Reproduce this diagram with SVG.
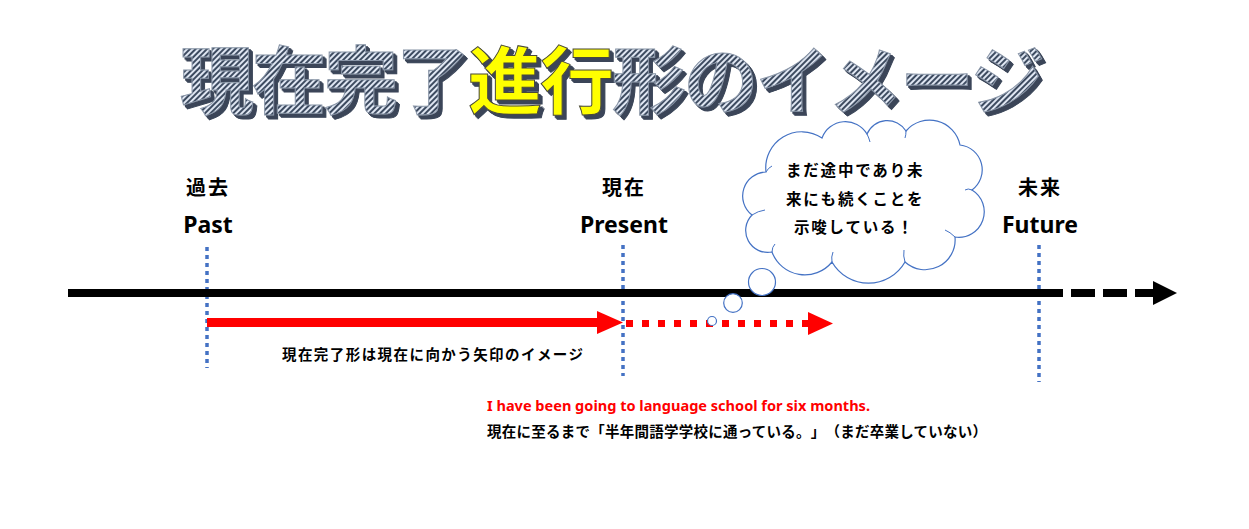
<svg xmlns="http://www.w3.org/2000/svg" width="1249" height="529" viewBox="0 0 1249 529">
<style>
.jp{font-family:"Noto Sans CJK JP","Noto Sans",sans-serif;font-weight:bold;fill:#000;text-spacing-trim:space-all}
.en{font-family:"Noto Sans","Liberation Sans",sans-serif;font-weight:bold;fill:#000}
.title{font-family:"Noto Sans CJK JP",sans-serif;font-weight:bold;font-size:74px;letter-spacing:-2px}
.front{fill:url(#stripes);stroke:#8a96a8;stroke-width:1}
.yel{fill:#ffff00;stroke:#4a4a3a;stroke-width:1}
.vdot{stroke:#4472c4;stroke-width:3.5;stroke-dasharray:4 4;fill:none}
.red{fill:#ff0000}
.bub{fill:#fff;stroke:#4472c4;stroke-width:1.2}
</style>
<defs>
<pattern id="stripes" width="4" height="4" patternUnits="userSpaceOnUse" patternTransform="rotate(45)">
<rect width="4" height="4" fill="#dfe6f2"/>
<rect width="2" height="4" fill="#3d4b60"/>
</pattern>
<filter id="extrude" x="-5%" y="-20%" width="110%" height="140%">
<feOffset in="SourceAlpha" dx="1.5" dy="1.5" result="o1"/>
<feOffset in="SourceAlpha" dx="3" dy="3" result="o2"/>
<feOffset in="SourceAlpha" dx="4" dy="4" result="o3"/>
<feMerge result="m"><feMergeNode in="o1"/><feMergeNode in="o2"/><feMergeNode in="o3"/></feMerge>
<feFlood flood-color="#3a4558"/>
<feComposite in2="m" operator="in" result="sh"/>
<feMerge><feMergeNode in="sh"/><feMergeNode in="SourceGraphic"/></feMerge>
</filter>
</defs>
<rect width="1249" height="529" fill="#fff"/>

<g id="title" filter="url(#extrude)">
<text class="title front" x="180" y="108">現在完了<tspan class="yel">進行</tspan>形のイメージ</text>
</g>

<g id="connectors">
<line class="vdot" x1="207" y1="247" x2="207" y2="368"/>
<line class="vdot" x1="623" y1="245" x2="623" y2="376"/>
<line class="vdot" x1="1039" y1="245" x2="1039" y2="382"/>
<line x1="68" y1="293" x2="1063" y2="293" stroke="#000" stroke-width="8"/>
<line x1="1071" y1="293" x2="1155" y2="293" stroke="#000" stroke-width="8" stroke-dasharray="24 8"/>
<polygon points="1153,281 1177,293 1153,305" fill="#000"/>
<line x1="207" y1="322.5" x2="600" y2="322.5" stroke="#ff0000" stroke-width="9"/>
<polygon class="red" points="597,311 623,322.5 597,334"/>
<line x1="626" y1="323.5" x2="810" y2="323.5" stroke="#ff0000" stroke-width="7" stroke-dasharray="7 9"/>
<polygon class="red" points="808,312 833,323.5 808,335"/>
</g>

<g id="past">
<text class="jp" x="208" y="195" font-size="20" text-anchor="middle" letter-spacing="2">過去</text>
<text class="en" x="208" y="233" font-size="23" text-anchor="middle">Past</text>
</g>
<g id="present">
<text class="jp" x="624" y="195" font-size="20" text-anchor="middle" letter-spacing="2">現在</text>
<text class="en" x="624" y="233" font-size="23" text-anchor="middle">Present</text>
</g>
<g id="future">
<text class="jp" x="1040" y="195" font-size="20" text-anchor="middle" letter-spacing="2">未来</text>
<text class="en" x="1040" y="233" font-size="23" text-anchor="middle">Future</text>
</g>

<g id="thought-cloud">
<path class="bub" d="M752,215 A24 24 0 0 1 766,172 A36 36 0 0 1 822,138 A25 25 0 0 1 867,134 A22 22 0 0 1 906,131 A31 31 0 0 1 960,145 A25 25 0 0 1 972,190 A25.5 25.5 0 0 1 955,237 A30 30 0 0 1 905,262 A42 42 0 0 1 832,262 A35 35 0 0 1 772,252 A22 22 0 0 1 752,215 Z"/>
<path d="M972,190 Q968,188 965,190 M955,237 Q950,232 945,230 M905,262 Q903,256 904,250 M832,262 Q831,257 833,252 M772,252 Q772,247 775,244 M752,215 Q758,211 765,210 M766,172 Q768,168 772,166 M867,134 Q869,138 870,142 M906,131 Q906,135 905,138" fill="none" stroke="#4472c4" stroke-width="1"/>
<text class="jp" x="786" y="176" font-size="15.5" letter-spacing="1.8">まだ途中であり未</text>
<text class="jp" x="786" y="205" font-size="15.5" letter-spacing="1.8">来にも続くことを</text>
<text class="jp" x="794" y="233" font-size="15.5" letter-spacing="1.8">示唆している！</text>
<circle class="bub" cx="762" cy="282" r="13.5"/>
<circle class="bub" cx="733" cy="303" r="9.3"/>
<circle class="bub" cx="712" cy="321" r="4.5"/>
</g>

<g id="arrow-caption">
<text class="jp" x="282" y="360" font-size="14.5" textLength="301" lengthAdjust="spacing">現在完了形は現在に向かう矢印のイメージ</text>
</g>

<g id="example">
<text class="en" x="487" y="411" font-size="14.5" style="fill:#ff0000" textLength="383" lengthAdjust="spacingAndGlyphs">I have been going to language school for six months.</text>
<text class="jp" x="487" y="437" font-size="14.5" textLength="500" lengthAdjust="spacing">現在に至るまで「半年間語学学校に通っている。」（まだ卒業していない）</text>
</g>
</svg>
